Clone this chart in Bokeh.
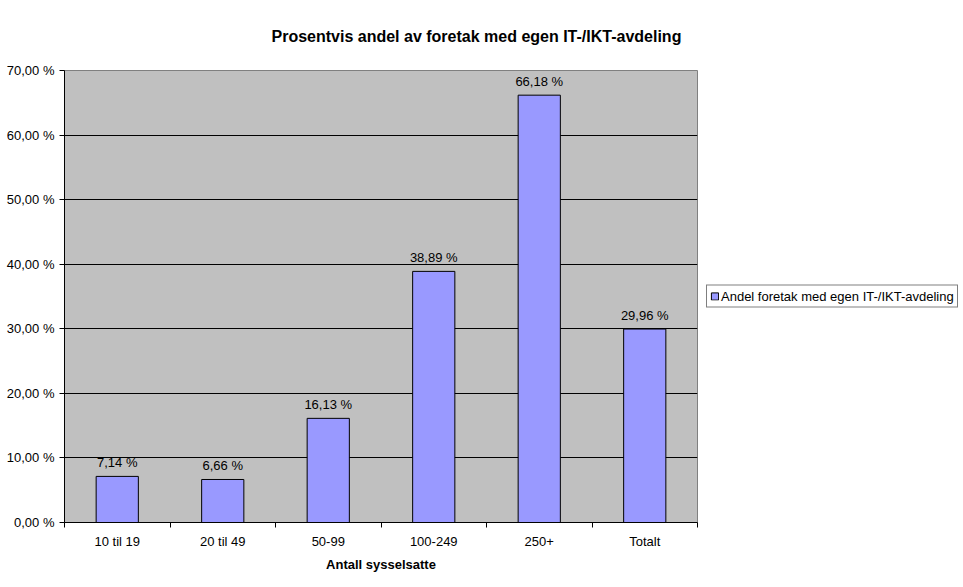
from bokeh.plotting import figure
from bokeh.models import Range1d, FixedTicker, ColumnDataSource, LabelSet, Legend, LegendItem
from bokeh.core.properties import value
from bokeh.embed import file_html
from bokeh.resources import INLINE

categories = ["10 til 19", "20 til 49", "50-99", "100-249", "250+", "Totalt"]
values = [7.14, 6.66, 16.13, 38.89, 66.18, 29.96]
y_ticks = [0, 10, 20, 30, 40, 50, 60, 70]
series_name = "Andel foretak med egen IT-/IKT-avdeling"
title_text = "Prosentvis andel av foretak med egen IT-/IKT-avdeling"
x_label = "Antall sysselsatte"

FONT = "Liberation Sans"

xs = [i + 0.5 for i in range(len(categories))]
src = ColumnDataSource(dict(
    x=xs, top=values,
    lbl=[("%.2f" % v).replace(".", ",") + " %" for v in values],
))

p = figure(frame_width=633, frame_height=452, output_backend="svg", toolbar_location=None,
           x_range=Range1d(0, len(categories)), y_range=Range1d(0, 70),
           min_border_left=64, min_border_right=266, min_border_top=0, min_border_bottom=65)

p.background_fill_color = "#C0C0C0"
p.border_fill_color = "white"
p.outline_line_color = "#808080"
p.outline_line_width = 1

r = p.vbar(x="x", top="top", width=0.4, source=src, fill_color="#9999FF",
           line_color="black", line_width=1)

labels = LabelSet(x="x", y="top", text="lbl", source=src, text_align="center",
                  text_baseline="bottom", y_offset=6, text_font_size=value("13px"),
                  text_font=value(FONT), text_color="black")
p.add_layout(labels)

# axes
p.xaxis.ticker = FixedTicker(ticks=xs, minor_ticks=list(range(len(categories) + 1)))
p.xaxis.major_label_overrides = {x: c for x, c in zip(xs, categories)}
p.xaxis.major_tick_out = 0
p.xaxis.major_tick_in = 0
p.xaxis.minor_tick_out = 5
p.xaxis.minor_tick_in = 0
p.xaxis.minor_tick_line_color = "black"
p.xaxis.axis_line_color = "black"
p.xaxis.major_label_text_font = FONT
p.xaxis.major_label_text_font_size = "13px"
p.xaxis.major_label_text_color = "black"
p.xaxis.major_label_standoff = 6
p.xaxis.axis_label = x_label
p.xaxis.axis_label_text_font = FONT
p.xaxis.axis_label_text_font_style = "bold"
p.xaxis.axis_label_text_font_size = "13px"
p.xaxis.axis_label_text_color = "black"
p.xaxis.axis_label_standoff = 5

p.yaxis.ticker = FixedTicker(ticks=y_ticks, minor_ticks=[])
p.yaxis.major_label_overrides = {t: ("%.2f" % t).replace(".", ",") + " %" for t in y_ticks}
p.yaxis.major_tick_out = 5
p.yaxis.major_tick_in = 0
p.yaxis.major_tick_line_color = "black"
p.yaxis.axis_line_color = "black"
p.yaxis.major_label_text_font = FONT
p.yaxis.major_label_text_font_size = "13px"
p.yaxis.major_label_text_color = "black"
p.yaxis.major_label_standoff = 5

p.xgrid.grid_line_color = None
p.ygrid.grid_line_color = "black"
p.ygrid.grid_line_width = 1

# title
p.title.text = title_text
p.title.text_font = FONT
p.title.text_font_style = "bold"
p.title.text_font_size = "16px"
p.title.text_color = "black"
p.title.align = "left"
p.title.offset = 207
p.title.standoff = 51

legend = Legend(items=[LegendItem(label=series_name, renderers=[r])],
                location="center_left", orientation="vertical")
legend.label_text_font = FONT
legend.label_text_font_size = "13px"
legend.label_text_color = "black"
legend.glyph_width = 9
legend.glyph_height = 9
legend.label_standoff = 2
legend.padding = 3
legend.spacing = 0
legend.margin = 9
legend.border_line_color = "black"
legend.border_line_width = 1
legend.background_fill_color = "white"
legend.background_fill_alpha = 1
legend.label_height = 13
p.add_layout(legend, "right")

open("out.html", "w").write(file_html(p, INLINE))
